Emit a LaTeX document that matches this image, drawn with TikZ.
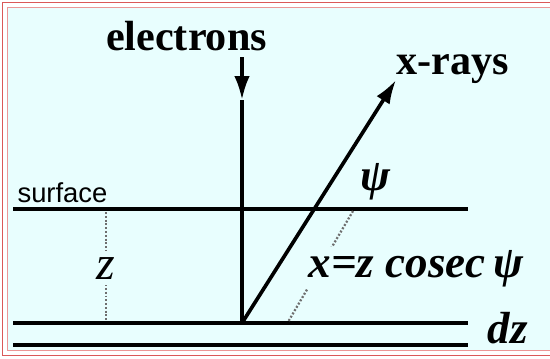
\documentclass[tikz,border=0pt]{standalone}
\usepackage{fontspec}
\setmainfont{Liberation Serif}
\setsansfont{Liberation Sans}
\usetikzlibrary{arrows.meta,positioning}

\definecolor{bgcyan}{RGB}{232,254,254}
\definecolor{framered}{RGB}{218,88,88}
\definecolor{framepink}{RGB}{236,150,150}
\definecolor{dotgrey}{RGB}{110,110,110}

\tikzset{
    layer/.style={draw=black, line width=2.6pt},
    beam/.style={draw=black, line width=2.6pt, -{Latex[length=17pt,width=11pt]}},
    depth/.style={draw=dotgrey, line width=1.6pt, dash pattern=on 1.4pt off 1.3pt},
    bigbold/.style={font=\bfseries\fontsize{30}{36}\selectfont},
    mathlbl/.style={font=\bfseries\itshape\fontsize{32}{38}\selectfont, fill=bgcyan, inner sep=2pt},
}

\begin{document}
\begin{tikzpicture}[x=0.25mm, y=0.25mm]
        \useasboundingbox (0.00,0.00) rectangle (550.00,-358.00);

        % frame
	\fill[bgcyan] (7.50,-7.50) rectangle (560.00,-350.50);
	\draw[framered, line width=1.4pt] (2.50,-2.50) rectangle (560.00,-355.50);
	\draw[framepink, line width=1.1pt] (7.50,-7.50) rectangle (560.00,-350.50);

        % surface and layer dz
	\draw[layer] (13.00,-209.00) -- (468.00,-209.00);
	\draw[layer] (13.00,-323.00) -- (468.00,-323.00);
	\draw[layer] (13.00,-345.00) -- (468.00,-345.00);

	\coordinate (etop) at (242.00,-57.00);
	\coordinate (etip) at (242.00,-100.00);
	\coordinate (base) at (242.00,-323.00);
	\coordinate (xtip) at (396.00,-80.00);

	\coordinate (ztop) at (106.00,-212.00);
	\coordinate (zbot) at (106.00,-322.00);
	\coordinate (xdtop) at (353.00,-211.00);
	\coordinate (xdbot) at (288.00,-322.00);

        % beams
	\draw[beam] (etop) -- (etip);
	\draw[layer] (etip) -- (base);
	\draw[beam] (base) -- (xtip);

        % depths
	\draw[depth] (ztop) -- (zbot);
	\draw[depth] (xdtop) -- (xdbot);

	\node[bigbold, anchor=base] (electrons) at (186.50,-50.00) {electrons};

	\node[bigbold, anchor=base] (xrays) at (453.00,-74.00) {x-rays};

	\node[font=\sffamily\fontsize{19.5}{23}\selectfont, anchor=base] (surface) at (62.50,-202.00) {surface};

	\node[font=\itshape\fontsize{34}{40}\selectfont, fill=bgcyan, inner xsep=1pt, inner ysep=4pt, anchor=base] (zlab) at (106.00,-279.00) {z};

	\node[mathlbl, fill=none, anchor=base] (psi) at (376.00,-190.00) {ψ};

	\node[mathlbl, anchor=base] (xlab) at (416.00,-277.00) {x=z cosec\,ψ};

	\node[mathlbl, fill=none, anchor=base] (dz) at (508.00,-343.00) {dz};

\end{tikzpicture}
\end{document}
